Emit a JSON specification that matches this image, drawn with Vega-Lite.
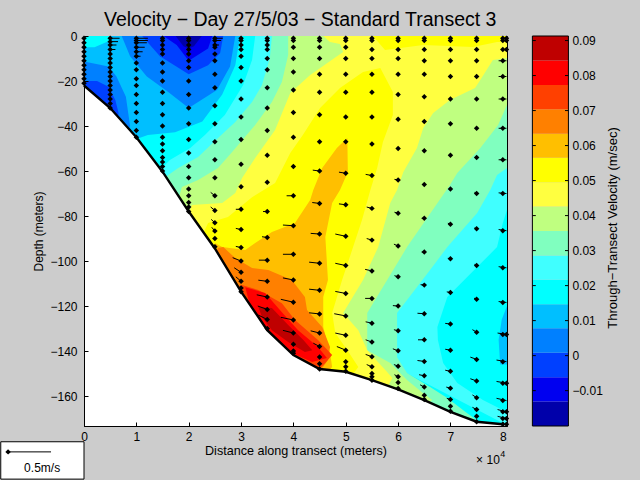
{"$schema":"https://vega.github.io/schema/vega-lite/v6.json","width":423,"height":390,"autosize":{"type":"none"},"padding":{"left":84,"top":36,"right":133,"bottom":54},"background":"#cccccc","config":{"view":{"stroke":"#000000","strokeWidth":1,"fill":null},"font":"Liberation Sans"},
"datasets":{
"poly":[
{"p":1,"b":"b06","o":1,"x":0,"d":0},{"p":1,"b":"b06","o":2,"x":8.08,"d":0},{"p":1,"b":"b06","o":3,"x":8.08,"d":-173.3},{"p":1,"b":"b06","o":4,"x":0,"d":-173.3},
{"p":2,"b":"b05","o":1,"x":0,"d":-5},{"p":2,"b":"b05","o":2,"x":0.2,"d":-5},{"p":2,"b":"b05","o":3,"x":0.5,"d":-2},{"p":2,"b":"b05","o":4,"x":0.5,"d":0},{"p":2,"b":"b05","o":5,"x":2.98,"d":0},{"p":2,"b":"b05","o":6,"x":2.89,"d":-13},{"p":2,"b":"b05","o":7,"x":2.64,"d":-26},{"p":2,"b":"b05","o":8,"x":2.26,"d":-38},{"p":2,"b":"b05","o":9,"x":1.74,"d":-42.8},{"p":2,"b":"b05","o":10,"x":1.22,"d":-44},{"p":2,"b":"b05","o":11,"x":1.03,"d":-45.5},{"p":2,"b":"b05","o":12,"x":0.9,"d":-60},{"p":2,"b":"b05","o":13,"x":0,"d":-60},
{"p":3,"b":"b05","o":1,"x":8.08,"d":-120},{"p":3,"b":"b05","o":2,"x":7.98,"d":-126},{"p":3,"b":"b05","o":3,"x":7.92,"d":-135},{"p":3,"b":"b05","o":4,"x":7.95,"d":-146},{"p":3,"b":"b05","o":5,"x":8.08,"d":-146},
{"p":4,"b":"b04","o":1,"x":0.72,"d":0},{"p":4,"b":"b04","o":2,"x":2.89,"d":0},{"p":4,"b":"b04","o":3,"x":2.79,"d":-13.5},{"p":4,"b":"b04","o":4,"x":2.54,"d":-24},{"p":4,"b":"b04","o":5,"x":2,"d":-32},{"p":4,"b":"b04","o":6,"x":1.59,"d":-24.5},{"p":4,"b":"b04","o":7,"x":1.2,"d":-18},{"p":4,"b":"b04","o":8,"x":0.88,"d":-9},
{"p":5,"b":"b04","o":1,"x":0,"d":-11.3},{"p":5,"b":"b04","o":2,"x":0.47,"d":-13.5},{"p":5,"b":"b04","o":3,"x":0.62,"d":-18},{"p":5,"b":"b04","o":4,"x":0.8,"d":-27},{"p":5,"b":"b04","o":5,"x":0.88,"d":-40},{"p":5,"b":"b04","o":6,"x":0.7,"d":-50},{"p":5,"b":"b04","o":7,"x":0,"d":-50},
{"p":6,"b":"b03","o":1,"x":1.11,"d":0},{"p":6,"b":"b03","o":2,"x":2.66,"d":0},{"p":6,"b":"b03","o":3,"x":2.6,"d":-7.5},{"p":6,"b":"b03","o":4,"x":2.37,"d":-13},{"p":6,"b":"b03","o":5,"x":2,"d":-17},{"p":6,"b":"b03","o":6,"x":1.45,"d":-9},
{"p":7,"b":"b03","o":1,"x":0,"d":-20},{"p":7,"b":"b03","o":2,"x":0.25,"d":-20},{"p":7,"b":"b03","o":3,"x":0.47,"d":-22.5},{"p":7,"b":"b03","o":4,"x":0.6,"d":-28.5},{"p":7,"b":"b03","o":5,"x":0.66,"d":-34.2},{"p":7,"b":"b03","o":6,"x":0.6,"d":-45},{"p":7,"b":"b03","o":7,"x":0,"d":-45},
{"p":8,"b":"b02","o":1,"x":1.52,"d":0},{"p":8,"b":"b02","o":2,"x":2.45,"d":0},{"p":8,"b":"b02","o":3,"x":2.37,"d":-5.5},{"p":8,"b":"b02","o":4,"x":2,"d":-11},{"p":8,"b":"b02","o":5,"x":1.77,"d":-4},
{"p":9,"b":"b01","o":1,"x":1.75,"d":0},{"p":9,"b":"b01","o":2,"x":2.25,"d":0},{"p":9,"b":"b01","o":3,"x":2.1,"d":-4.5},{"p":9,"b":"b01","o":4,"x":2,"d":-5.5},{"p":9,"b":"b01","o":5,"x":1.9,"d":-4.5},
{"p":10,"b":"b07","o":1,"x":3.27,"d":0},{"p":10,"b":"b07","o":2,"x":8.08,"d":0},{"p":10,"b":"b07","o":3,"x":8.08,"d":-77.3},{"p":10,"b":"b07","o":4,"x":8,"d":-83.1},{"p":10,"b":"b07","o":5,"x":7.89,"d":-93.8},{"p":10,"b":"b07","o":6,"x":7.51,"d":-102.7},{"p":10,"b":"b07","o":7,"x":6.94,"d":-116},{"p":10,"b":"b07","o":8,"x":6.75,"d":-129.3},{"p":10,"b":"b07","o":9,"x":6.76,"d":-135.1},{"p":10,"b":"b07","o":10,"x":6.86,"d":-145.3},{"p":10,"b":"b07","o":11,"x":7.13,"d":-154.2},{"p":10,"b":"b07","o":12,"x":7.62,"d":-161.8},{"p":10,"b":"b07","o":13,"x":8,"d":-166.2},{"p":10,"b":"b07","o":14,"x":8.08,"d":-167.1},{"p":10,"b":"b07","o":15,"x":8.08,"d":-173},{"p":10,"b":"b07","o":16,"x":1.26,"d":-90.7},{"p":10,"b":"b07","o":17,"x":1.45,"d":-59.6},{"p":10,"b":"b07","o":18,"x":1.64,"d":-55.1},{"p":10,"b":"b07","o":19,"x":2.03,"d":-49.8},{"p":10,"b":"b07","o":20,"x":2.31,"d":-44},{"p":10,"b":"b07","o":21,"x":2.69,"d":-35.1},{"p":10,"b":"b07","o":22,"x":3.04,"d":-21.8},{"p":10,"b":"b07","o":23,"x":3.21,"d":-10.7},
{"p":11,"b":"b08","o":1,"x":3.59,"d":0},{"p":11,"b":"b08","o":2,"x":8.08,"d":0},{"p":11,"b":"b08","o":3,"x":8.08,"d":-58.7},{"p":11,"b":"b08","o":4,"x":7.89,"d":-61.8},{"p":11,"b":"b08","o":5,"x":7.76,"d":-68.4},{"p":11,"b":"b08","o":6,"x":7.51,"d":-78.7},{"p":11,"b":"b08","o":7,"x":6.94,"d":-93.8},{"p":11,"b":"b08","o":8,"x":6.61,"d":-104},{"p":11,"b":"b08","o":9,"x":5.98,"d":-123.1},{"p":11,"b":"b08","o":10,"x":5.98,"d":-142.7},{"p":11,"b":"b08","o":11,"x":6.17,"d":-149.8},{"p":11,"b":"b08","o":12,"x":6.61,"d":-156},{"p":11,"b":"b08","o":13,"x":6.94,"d":-160.9},{"p":11,"b":"b08","o":14,"x":7.32,"d":-167.6},{"p":11,"b":"b08","o":15,"x":7.51,"d":-170.7},{"p":11,"b":"b08","o":16,"x":6.99,"d":-173},{"p":11,"b":"b08","o":17,"x":1.45,"d":-90.7},{"p":11,"b":"b08","o":18,"x":1.49,"d":-64},{"p":11,"b":"b08","o":19,"x":1.61,"d":-61.8},{"p":11,"b":"b08","o":20,"x":1.8,"d":-58.7},{"p":11,"b":"b08","o":21,"x":2.18,"d":-53.8},{"p":11,"b":"b08","o":22,"x":2.56,"d":-45.3},{"p":11,"b":"b08","o":23,"x":2.89,"d":-38.2},{"p":11,"b":"b08","o":24,"x":3.21,"d":-29.3},{"p":11,"b":"b08","o":25,"x":3.4,"d":-21.8},{"p":11,"b":"b08","o":26,"x":3.55,"d":-9.8},
{"p":12,"b":"b09","o":1,"x":3.9,"d":0},{"p":12,"b":"b09","o":2,"x":8.08,"d":0},{"p":12,"b":"b09","o":3,"x":8.08,"d":-30.7},{"p":12,"b":"b09","o":4,"x":7.91,"d":-39.6},{"p":12,"b":"b09","o":5,"x":7.57,"d":-49.8},{"p":12,"b":"b09","o":6,"x":7.13,"d":-60.9},{"p":12,"b":"b09","o":7,"x":6.99,"d":-66.2},{"p":12,"b":"b09","o":8,"x":6.17,"d":-93.8},{"p":12,"b":"b09","o":9,"x":5.41,"d":-123.1},{"p":12,"b":"b09","o":10,"x":5.41,"d":-139.6},{"p":12,"b":"b09","o":11,"x":5.85,"d":-145.3},{"p":12,"b":"b09","o":12,"x":6.17,"d":-152.9},{"p":12,"b":"b09","o":13,"x":6.48,"d":-158.7},{"p":12,"b":"b09","o":14,"x":6.65,"d":-161.8},{"p":12,"b":"b09","o":15,"x":6.23,"d":-170.7},{"p":12,"b":"b09","o":16,"x":1.64,"d":-90.7},{"p":12,"b":"b09","o":17,"x":1.8,"d":-72.9},{"p":12,"b":"b09","o":18,"x":1.87,"d":-67.1},{"p":12,"b":"b09","o":19,"x":2.18,"d":-64},{"p":12,"b":"b09","o":20,"x":2.56,"d":-58.7},{"p":12,"b":"b09","o":21,"x":2.83,"d":-51.6},{"p":12,"b":"b09","o":22,"x":3.27,"d":-39.6},{"p":12,"b":"b09","o":23,"x":3.59,"d":-29.3},{"p":12,"b":"b09","o":24,"x":3.78,"d":-20.4},{"p":12,"b":"b09","o":25,"x":3.9,"d":-8.4},
{"p":13,"b":"b10","o":1,"x":4.57,"d":0},{"p":13,"b":"b10","o":2,"x":8.08,"d":0},{"p":13,"b":"b10","o":3,"x":8.08,"d":-9.8},{"p":13,"b":"b10","o":4,"x":7.81,"d":-10.7},{"p":13,"b":"b10","o":5,"x":7.57,"d":-19.6},{"p":13,"b":"b10","o":6,"x":7.47,"d":-23.1},{"p":13,"b":"b10","o":7,"x":6.99,"d":-28.4},{"p":13,"b":"b10","o":8,"x":6.67,"d":-34.2},{"p":13,"b":"b10","o":9,"x":6.48,"d":-40.9},{"p":13,"b":"b10","o":10,"x":6.36,"d":-49.8},{"p":13,"b":"b10","o":11,"x":6.1,"d":-60.4},{"p":13,"b":"b10","o":12,"x":5.98,"d":-68.4},{"p":13,"b":"b10","o":13,"x":5.85,"d":-74.2},{"p":13,"b":"b10","o":14,"x":5.62,"d":-93.8},{"p":13,"b":"b10","o":15,"x":5.33,"d":-108.4},{"p":13,"b":"b10","o":16,"x":4.95,"d":-123.1},{"p":13,"b":"b10","o":17,"x":5.24,"d":-130.7},{"p":13,"b":"b10","o":18,"x":5.41,"d":-139.6},{"p":13,"b":"b10","o":19,"x":5.79,"d":-149.3},{"p":13,"b":"b10","o":20,"x":5.89,"d":-152},{"p":13,"b":"b10","o":21,"x":5.66,"d":-161.8},{"p":13,"b":"b10","o":22,"x":1.84,"d":-90.7},{"p":13,"b":"b10","o":23,"x":2.06,"d":-75.1},{"p":13,"b":"b10","o":24,"x":2.64,"d":-74.2},{"p":13,"b":"b10","o":25,"x":2.89,"d":-69.8},{"p":13,"b":"b10","o":26,"x":3.02,"d":-63.1},{"p":13,"b":"b10","o":27,"x":3.27,"d":-54.2},{"p":13,"b":"b10","o":28,"x":3.65,"d":-41.8},{"p":13,"b":"b10","o":29,"x":3.94,"d":-25.3},{"p":13,"b":"b10","o":30,"x":4.32,"d":-17.3},{"p":13,"b":"b10","o":31,"x":4.95,"d":-7.1},{"p":13,"b":"b10","o":32,"x":4.89,"d":-3.6},{"p":13,"b":"b10","o":33,"x":4.7,"d":-2.7},
{"p":14,"b":"b11","o":1,"x":5.66,"d":-14.2},{"p":14,"b":"b11","o":2,"x":5.9,"d":-24.9},{"p":14,"b":"b11","o":3,"x":5.9,"d":-35.1},{"p":14,"b":"b11","o":4,"x":5.71,"d":-47.1},{"p":14,"b":"b11","o":5,"x":5.6,"d":-58.7},{"p":14,"b":"b11","o":6,"x":5.47,"d":-68.4},{"p":14,"b":"b11","o":7,"x":5.31,"d":-81.8},{"p":14,"b":"b11","o":8,"x":5.14,"d":-93.8},{"p":14,"b":"b11","o":9,"x":4.93,"d":-108.4},{"p":14,"b":"b11","o":10,"x":4.74,"d":-123.1},{"p":14,"b":"b11","o":11,"x":4.8,"d":-132},{"p":14,"b":"b11","o":12,"x":5.03,"d":-139.6},{"p":14,"b":"b11","o":13,"x":5.24,"d":-147.1},{"p":14,"b":"b11","o":14,"x":5.12,"d":-150.7},{"p":14,"b":"b11","o":15,"x":4.13,"d":-157.3},{"p":14,"b":"b11","o":16,"x":2.22,"d":-90.7},{"p":14,"b":"b11","o":17,"x":2.37,"d":-83.1},{"p":14,"b":"b11","o":18,"x":2.75,"d":-80.4},{"p":14,"b":"b11","o":19,"x":3.21,"d":-71.6},{"p":14,"b":"b11","o":20,"x":3.65,"d":-65.3},{"p":14,"b":"b11","o":21,"x":3.94,"d":-52},{"p":14,"b":"b11","o":22,"x":4.18,"d":-44},{"p":14,"b":"b11","o":23,"x":4.51,"d":-32},{"p":14,"b":"b11","o":24,"x":4.89,"d":-23.1},{"p":14,"b":"b11","o":25,"x":5.33,"d":-16},
{"p":15,"b":"b11","o":1,"x":5.52,"d":0},{"p":15,"b":"b11","o":2,"x":5.75,"d":-6.2},{"p":15,"b":"b11","o":3,"x":6.48,"d":-4},{"p":15,"b":"b11","o":4,"x":7.43,"d":-4.9},{"p":15,"b":"b11","o":5,"x":7.89,"d":-2.7},{"p":15,"b":"b11","o":6,"x":8.08,"d":-2.7},{"p":15,"b":"b11","o":7,"x":8.08,"d":0},
{"p":16,"b":"b12","o":1,"x":5.03,"d":-45.3},{"p":16,"b":"b12","o":2,"x":5.04,"d":-60.4},{"p":16,"b":"b12","o":3,"x":4.89,"d":-68.4},{"p":16,"b":"b12","o":4,"x":4.74,"d":-74.2},{"p":16,"b":"b12","o":5,"x":4.61,"d":-89.3},{"p":16,"b":"b12","o":6,"x":4.66,"d":-108.4},{"p":16,"b":"b12","o":7,"x":4.57,"d":-116},{"p":16,"b":"b12","o":8,"x":4.57,"d":-129.3},{"p":16,"b":"b12","o":9,"x":4.7,"d":-140.9},{"p":16,"b":"b12","o":10,"x":4.74,"d":-147.1},{"p":16,"b":"b12","o":11,"x":4.51,"d":-152.9},{"p":16,"b":"b12","o":12,"x":2.5,"d":-99.6},{"p":16,"b":"b12","o":13,"x":2.5,"d":-92},{"p":16,"b":"b12","o":14,"x":2.64,"d":-93.8},{"p":16,"b":"b12","o":15,"x":3.08,"d":-95.1},{"p":16,"b":"b12","o":16,"x":3.27,"d":-92},{"p":16,"b":"b12","o":17,"x":3.59,"d":-87.1},{"p":16,"b":"b12","o":18,"x":4.03,"d":-83.1},{"p":16,"b":"b12","o":19,"x":4.32,"d":-72.9},{"p":16,"b":"b12","o":20,"x":4.38,"d":-68.4},{"p":16,"b":"b12","o":21,"x":4.55,"d":-58.7},{"p":16,"b":"b12","o":22,"x":4.83,"d":-49.8},
{"p":17,"b":"b13","o":1,"x":2.56,"d":-94.2},{"p":17,"b":"b13","o":2,"x":2.66,"d":-93.8},{"p":17,"b":"b13","o":3,"x":2.89,"d":-98.7},{"p":17,"b":"b13","o":4,"x":3.21,"d":-103.1},{"p":17,"b":"b13","o":5,"x":3.52,"d":-104},{"p":17,"b":"b13","o":6,"x":3.97,"d":-108.4},{"p":17,"b":"b13","o":7,"x":4.22,"d":-116},{"p":17,"b":"b13","o":8,"x":4.26,"d":-121.8},{"p":17,"b":"b13","o":9,"x":4.55,"d":-129.3},{"p":17,"b":"b13","o":10,"x":4.7,"d":-138.2},{"p":17,"b":"b13","o":11,"x":4.66,"d":-144},{"p":17,"b":"b13","o":12,"x":4.55,"d":-147.6},{"p":17,"b":"b13","o":13,"x":4.13,"d":-152.9},{"p":17,"b":"b13","o":14,"x":2.22,"d":-108.4},
{"p":18,"b":"b14","o":1,"x":3.02,"d":-110.7},{"p":18,"b":"b14","o":2,"x":3.33,"d":-112.9},{"p":18,"b":"b14","o":3,"x":3.78,"d":-118.7},{"p":18,"b":"b14","o":4,"x":4.03,"d":-126.2},{"p":18,"b":"b14","o":5,"x":4.47,"d":-135.1},{"p":18,"b":"b14","o":6,"x":4.74,"d":-141.8},{"p":18,"b":"b14","o":7,"x":4.61,"d":-145.3},{"p":18,"b":"b14","o":8,"x":4.51,"d":-147.6},{"p":18,"b":"b14","o":9,"x":3.94,"d":-152.9},{"p":18,"b":"b14","o":10,"x":2.79,"d":-112.9},
{"p":19,"b":"b15","o":1,"x":3.08,"d":-111.6},{"p":19,"b":"b15","o":2,"x":3.46,"d":-114.2},{"p":19,"b":"b15","o":3,"x":3.78,"d":-122.7},{"p":19,"b":"b15","o":4,"x":4.09,"d":-130.7},{"p":19,"b":"b15","o":5,"x":4.47,"d":-138.2},{"p":19,"b":"b15","o":6,"x":4.64,"d":-143.1},{"p":19,"b":"b15","o":7,"x":4.36,"d":-144.9},{"p":19,"b":"b15","o":8,"x":3.84,"d":-139.6},{"p":19,"b":"b15","o":9,"x":3.46,"d":-130.7},{"p":19,"b":"b15","o":10,"x":3.17,"d":-119.6},
{"p":20,"b":"b16","o":1,"x":3.33,"d":-120.4},{"p":20,"b":"b16","o":2,"x":3.59,"d":-120.9},{"p":20,"b":"b16","o":3,"x":3.9,"d":-128.4},{"p":20,"b":"b16","o":4,"x":4.19,"d":-135.1},{"p":20,"b":"b16","o":5,"x":4.36,"d":-139.6},{"p":20,"b":"b16","o":6,"x":4.22,"d":-140.4},{"p":20,"b":"b16","o":7,"x":3.9,"d":-136},{"p":20,"b":"b16","o":8,"x":3.59,"d":-130.7},{"p":20,"b":"b16","o":9,"x":3.4,"d":-124.9},
{"p":21,"b":"sea","o":1,"x":0,"d":-22},{"p":21,"b":"sea","o":2,"x":0.5,"d":-32},{"p":21,"b":"sea","o":3,"x":1,"d":-45},{"p":21,"b":"sea","o":4,"x":1.5,"d":-60.3},{"p":21,"b":"sea","o":5,"x":2,"d":-78},{"p":21,"b":"sea","o":6,"x":2.5,"d":-94.4},{"p":21,"b":"sea","o":7,"x":3,"d":-113.6},{"p":21,"b":"sea","o":8,"x":3.5,"d":-130.7},{"p":21,"b":"sea","o":9,"x":4,"d":-141.8},{"p":21,"b":"sea","o":10,"x":4.5,"d":-148},{"p":21,"b":"sea","o":11,"x":5,"d":-149.2},{"p":21,"b":"sea","o":12,"x":5.5,"d":-152.9},{"p":21,"b":"sea","o":13,"x":6,"d":-157},{"p":21,"b":"sea","o":14,"x":6.5,"d":-161.8},{"p":21,"b":"sea","o":15,"x":7,"d":-167},{"p":21,"b":"sea","o":16,"x":7.5,"d":-171.4},{"p":21,"b":"sea","o":17,"x":8,"d":-172.5},{"p":21,"b":"sea","o":18,"x":8.08,"d":-173.3},{"p":21,"b":"sea","o":19,"x":0,"d":-173.3}
],
"seabed":[{"o":1,"x":0,"d":-22},{"o":2,"x":0.5,"d":-32},{"o":3,"x":1,"d":-45},{"o":4,"x":1.5,"d":-60.3},{"o":5,"x":2,"d":-78},{"o":6,"x":2.5,"d":-94.4},{"o":7,"x":3,"d":-113.6},{"o":8,"x":3.5,"d":-130.7},{"o":9,"x":4,"d":-141.8},{"o":10,"x":4.5,"d":-148},{"o":11,"x":5,"d":-149.2},{"o":12,"x":5.5,"d":-152.9},{"o":13,"x":6,"d":-157},{"o":14,"x":6.5,"d":-161.8},{"o":15,"x":7,"d":-167},{"o":16,"x":7.5,"d":-171.4},{"o":17,"x":8,"d":-172.5}],
"tails":[
{"x":0.5,"d":-1,"tx":0.68,"td":-1},{"x":0.5,"d":-2.5,"tx":0.65,"td":-2.5},{"x":0.5,"d":-4,"tx":0.62,"td":-4},{"x":0.5,"d":-6,"tx":0.6,"td":-6},
{"x":1,"d":-1,"tx":1.22,"td":-1},{"x":1,"d":-2,"tx":1.22,"td":-2},{"x":1,"d":-3,"tx":1.2,"td":-3},{"x":1,"d":-5,"tx":1.16,"td":-5},{"x":1,"d":-7,"tx":1.12,"td":-7},{"x":1,"d":-9,"tx":1.08,"td":-9},
{"x":2.5,"d":-1,"tx":2.65,"td":-1},{"x":2.5,"d":-2,"tx":2.62,"td":-2},{"x":2.5,"d":-4,"tx":2.58,"td":-4},
{"x":2.5,"d":-71,"tx":2.42,"td":-69.5},{"x":2.5,"d":-77.5,"tx":2.42,"td":-76},{"x":2.5,"d":-83,"tx":2.43,"td":-81.5},{"x":2.5,"d":-86.7,"tx":2.44,"td":-85},
{"x":3,"d":-77,"tx":2.9,"td":-77},{"x":3,"d":-86,"tx":2.9,"td":-85.5},{"x":3,"d":-94,"tx":2.9,"td":-93.5},{"x":3,"d":-100,"tx":2.84,"td":-98.5},{"x":3,"d":-105,"tx":2.87,"td":-103},{"x":3,"d":-109,"tx":2.9,"td":-107},
{"x":3.5,"d":-78,"tx":3.42,"td":-78},{"x":3.5,"d":-89.5,"tx":3.4,"td":-89.2},{"x":3.5,"d":-99.6,"tx":3.34,"td":-99.6},{"x":3.5,"d":-109,"tx":3.33,"td":-108.5},{"x":3.5,"d":-116,"tx":3.3,"td":-115},{"x":3.5,"d":-121.5,"tx":3.32,"td":-120},{"x":3.5,"d":-126,"tx":3.33,"td":-124},
{"x":4,"d":-71,"tx":3.87,"td":-71},{"x":4,"d":-84.3,"tx":3.8,"td":-84},{"x":4,"d":-97,"tx":3.8,"td":-97},{"x":4,"d":-108.4,"tx":3.8,"td":-107.5},{"x":4,"d":-118.3,"tx":3.76,"td":-117},{"x":4,"d":-126.2,"tx":3.76,"td":-125},{"x":4,"d":-132,"tx":3.8,"td":-130.8},
{"x":4.5,"d":-60,"tx":4.37,"td":-59.6},{"x":4.5,"d":-74.4,"tx":4.36,"td":-74},{"x":4.5,"d":-88,"tx":4.33,"td":-87.7},{"x":4.5,"d":-101,"tx":4.3,"td":-100.5},{"x":4.5,"d":-113,"tx":4.3,"td":-112.5},{"x":4.5,"d":-123.5,"tx":4.3,"td":-123},{"x":4.5,"d":-132,"tx":4.33,"td":-131},{"x":4.5,"d":-138,"tx":4.38,"td":-136.5},
{"x":5,"d":-61,"tx":4.87,"td":-60.5},{"x":5,"d":-75,"tx":4.87,"td":-74.6},{"x":5,"d":-89,"tx":4.8,"td":-88},{"x":5,"d":-102,"tx":4.8,"td":-101},{"x":5,"d":-114.4,"tx":4.8,"td":-113.5},{"x":5,"d":-124.4,"tx":4.78,"td":-123.4},{"x":5,"d":-133,"tx":4.8,"td":-132},{"x":5,"d":-139.6,"tx":4.83,"td":-138},
{"x":5.5,"d":-62,"tx":5.38,"td":-61.5},{"x":5.5,"d":-76.6,"tx":5.4,"td":-76},{"x":5.5,"d":-90.7,"tx":5.4,"td":-90},{"x":5.5,"d":-104.4,"tx":5.37,"td":-103.7},{"x":5.5,"d":-116.6,"tx":5.37,"td":-116.6},{"x":5.5,"d":-127.6,"tx":5.38,"td":-127},{"x":5.5,"d":-136,"tx":5.38,"td":-135},{"x":5.5,"d":-142.5,"tx":5.38,"td":-141.5},{"x":5.5,"d":-147,"tx":5.4,"td":-146},
{"x":6,"d":-64,"tx":5.93,"td":-63.7},{"x":6,"d":-78.8,"tx":5.93,"td":-78.3},{"x":6,"d":-93.3,"tx":5.92,"td":-92.5},{"x":6,"d":-107,"tx":5.93,"td":-106.5},{"x":6,"d":-120,"tx":5.9,"td":-119.8},{"x":6,"d":-131,"tx":5.92,"td":-130.5},{"x":6,"d":-139.9,"tx":5.9,"td":-139},{"x":6,"d":-146.7,"tx":5.92,"td":-146},{"x":6,"d":-151.4,"tx":5.93,"td":-150.5},
{"x":6.5,"d":-81,"tx":6.45,"td":-81},{"x":6.5,"d":-96,"tx":6.45,"td":-96},{"x":6.5,"d":-110.7,"tx":6.43,"td":-110.5},{"x":6.5,"d":-123.4,"tx":6.37,"td":-123.2},{"x":6.5,"d":-135,"tx":6.38,"td":-135},{"x":6.5,"d":-144.6,"tx":6.37,"td":-144.2},{"x":6.5,"d":-151,"tx":6.4,"td":-150.5},{"x":6.5,"d":-156,"tx":6.42,"td":-155},
{"x":7,"d":-83.6,"tx":6.95,"td":-83.2},{"x":7,"d":-99,"tx":6.95,"td":-98.8},{"x":7,"d":-114,"tx":6.93,"td":-113.7},{"x":7,"d":-128,"tx":6.9,"td":-127.7},{"x":7,"d":-139.6,"tx":6.9,"td":-139.2},{"x":7,"d":-149,"tx":6.9,"td":-148.5},{"x":7,"d":-156.5,"tx":6.92,"td":-156},{"x":7,"d":-161.5,"tx":6.93,"td":-161},
{"x":7.5,"d":-70,"tx":7.46,"td":-69.5},{"x":7.5,"d":-85.7,"tx":7.46,"td":-85.3},{"x":7.5,"d":-102,"tx":7.46,"td":-101.5},{"x":7.5,"d":-117,"tx":7.45,"td":-116.5},{"x":7.5,"d":-131.6,"tx":7.42,"td":-130.5},{"x":7.5,"d":-143.7,"tx":7.38,"td":-142.7},{"x":7.5,"d":-153.3,"tx":7.38,"td":-152.3},{"x":7.5,"d":-160.7,"tx":7.42,"td":-159.5},{"x":7.5,"d":-166,"tx":7.42,"td":-165},
{"x":8.07,"d":-11,"tx":7.92,"td":-11},{"x":8.07,"d":-18,"tx":7.92,"td":-18},{"x":8.07,"d":-28,"tx":7.92,"td":-28},{"x":8.07,"d":-41,"tx":7.92,"td":-41},{"x":8.07,"d":-55,"tx":7.92,"td":-55},{"x":8.07,"d":-70,"tx":7.92,"td":-69.7},{"x":8.07,"d":-86.5,"tx":7.92,"td":-86},{"x":8.07,"d":-103,"tx":7.92,"td":-102.5},{"x":8.07,"d":-118.4,"tx":7.92,"td":-118},{"x":8.07,"d":-132.6,"tx":7.9,"td":-132},{"x":8.07,"d":-144.7,"tx":7.88,"td":-144},{"x":8.07,"d":-154.3,"tx":7.88,"td":-153.5},{"x":8.07,"d":-162,"tx":7.88,"td":-161},{"x":8.07,"d":-167,"tx":7.9,"td":-166},{"x":8.07,"d":-170,"tx":7.9,"td":-169}
],
"pts":[
{"x":0,"d":-1},{"x":0,"d":-3},{"x":0,"d":-5},{"x":0,"d":-7},{"x":0,"d":-9},{"x":0,"d":-11},{"x":0,"d":-13},{"x":0,"d":-15},{"x":0,"d":-17},{"x":0,"d":-19},{"x":0,"d":-21},
{"x":0.5,"d":-1},{"x":0.5,"d":-2.5},{"x":0.5,"d":-4},{"x":0.5,"d":-6},{"x":0.5,"d":-8},{"x":0.5,"d":-10},{"x":0.5,"d":-12},{"x":0.5,"d":-14},{"x":0.5,"d":-16},{"x":0.5,"d":-18},{"x":0.5,"d":-20},{"x":0.5,"d":-22},{"x":0.5,"d":-24},{"x":0.5,"d":-26},{"x":0.5,"d":-28},{"x":0.5,"d":-30},{"x":0.5,"d":-32},
{"x":1,"d":-1},{"x":1,"d":-2},{"x":1,"d":-3},{"x":1,"d":-5},{"x":1,"d":-7},{"x":1,"d":-9},{"x":1,"d":-12},{"x":1,"d":-15},{"x":1,"d":-19},{"x":1,"d":-22},{"x":1,"d":-26},{"x":1,"d":-30},{"x":1,"d":-34},{"x":1,"d":-38},{"x":1,"d":-42},{"x":1,"d":-45},
{"x":1.5,"d":-1},{"x":1.5,"d":-2},{"x":1.5,"d":-4},{"x":1.5,"d":-6},{"x":1.5,"d":-8},{"x":1.5,"d":-12},{"x":1.5,"d":-16},{"x":1.5,"d":-20},{"x":1.5,"d":-25},{"x":1.5,"d":-30},{"x":1.5,"d":-35},{"x":1.5,"d":-40},{"x":1.5,"d":-45},{"x":1.5,"d":-48},{"x":1.5,"d":-51},{"x":1.5,"d":-54},{"x":1.5,"d":-56},{"x":1.5,"d":-58},{"x":1.5,"d":-60},
{"x":2,"d":-1},{"x":2,"d":-2},{"x":2,"d":-4},{"x":2,"d":-6},{"x":2,"d":-8},{"x":2,"d":-11},{"x":2,"d":-14},{"x":2,"d":-20},{"x":2,"d":-26},{"x":2,"d":-32},{"x":2,"d":-39},{"x":2,"d":-46},{"x":2,"d":-52},{"x":2,"d":-58},{"x":2,"d":-63},{"x":2,"d":-68},{"x":2,"d":-71},{"x":2,"d":-74},{"x":2,"d":-76},{"x":2,"d":-78},
{"x":2.5,"d":-1},{"x":2.5,"d":-2},{"x":2.5,"d":-4},{"x":2.5,"d":-5},{"x":2.5,"d":-8},{"x":2.5,"d":-11},{"x":2.5,"d":-17},{"x":2.5,"d":-23},{"x":2.5,"d":-31},{"x":2.5,"d":-39},{"x":2.5,"d":-47},{"x":2.5,"d":-55},{"x":2.5,"d":-63},{"x":2.5,"d":-71},{"x":2.5,"d":-77.5},{"x":2.5,"d":-83},{"x":2.5,"d":-86.7},{"x":2.5,"d":-90},{"x":2.5,"d":-93.6},
{"x":3,"d":-1},{"x":3,"d":-2},{"x":3,"d":-4},{"x":3,"d":-6},{"x":3,"d":-9},{"x":3,"d":-14},{"x":3,"d":-20},{"x":3,"d":-28},{"x":3,"d":-36},{"x":3,"d":-46},{"x":3,"d":-57},{"x":3,"d":-67},{"x":3,"d":-77},{"x":3,"d":-86},{"x":3,"d":-94},{"x":3,"d":-100},{"x":3,"d":-105},{"x":3,"d":-109},{"x":3,"d":-112},{"x":3,"d":-113.6},
{"x":3.5,"d":-1},{"x":3.5,"d":-2},{"x":3.5,"d":-4},{"x":3.5,"d":-6},{"x":3.5,"d":-10},{"x":3.5,"d":-15},{"x":3.5,"d":-23},{"x":3.5,"d":-32},{"x":3.5,"d":-42},{"x":3.5,"d":-53},{"x":3.5,"d":-65},{"x":3.5,"d":-78},{"x":3.5,"d":-89.5},{"x":3.5,"d":-99.6},{"x":3.5,"d":-109},{"x":3.5,"d":-116},{"x":3.5,"d":-121.5},{"x":3.5,"d":-126},{"x":3.5,"d":-130},
{"x":4,"d":-1},{"x":4,"d":-2},{"x":4,"d":-5},{"x":4,"d":-10},{"x":4,"d":-16},{"x":4,"d":-24},{"x":4,"d":-34},{"x":4,"d":-45},{"x":4,"d":-58},{"x":4,"d":-71},{"x":4,"d":-84.3},{"x":4,"d":-97},{"x":4,"d":-108.4},{"x":4,"d":-118.3},{"x":4,"d":-126.2},{"x":4,"d":-132},{"x":4,"d":-137},{"x":4,"d":-140},{"x":4,"d":-141},
{"x":4.5,"d":-1},{"x":4.5,"d":-2},{"x":4.5,"d":-5},{"x":4.5,"d":-10},{"x":4.5,"d":-17},{"x":4.5,"d":-25},{"x":4.5,"d":-35},{"x":4.5,"d":-47},{"x":4.5,"d":-60},{"x":4.5,"d":-74.4},{"x":4.5,"d":-88},{"x":4.5,"d":-101},{"x":4.5,"d":-113},{"x":4.5,"d":-123.5},{"x":4.5,"d":-132},{"x":4.5,"d":-138},{"x":4.5,"d":-142.6},{"x":4.5,"d":-145.6},{"x":4.5,"d":-148},
{"x":5,"d":-1},{"x":5,"d":-2},{"x":5,"d":-5},{"x":5,"d":-10},{"x":5,"d":-17},{"x":5,"d":-25},{"x":5,"d":-36},{"x":5,"d":-47},{"x":5,"d":-61},{"x":5,"d":-75},{"x":5,"d":-89},{"x":5,"d":-102},{"x":5,"d":-114.4},{"x":5,"d":-124.4},{"x":5,"d":-133},{"x":5,"d":-139.6},{"x":5,"d":-144.7},{"x":5,"d":-147},{"x":5,"d":-149},
{"x":5.5,"d":-1},{"x":5.5,"d":-2},{"x":5.5,"d":-6},{"x":5.5,"d":-10},{"x":5.5,"d":-17},{"x":5.5,"d":-25},{"x":5.5,"d":-36},{"x":5.5,"d":-48},{"x":5.5,"d":-62},{"x":5.5,"d":-76.6},{"x":5.5,"d":-90.7},{"x":5.5,"d":-104.4},{"x":5.5,"d":-116.6},{"x":5.5,"d":-127.6},{"x":5.5,"d":-136},{"x":5.5,"d":-142.5},{"x":5.5,"d":-147},{"x":5.5,"d":-150},{"x":5.5,"d":-151.4},{"x":5.5,"d":-153},
{"x":6,"d":-1},{"x":6,"d":-2},{"x":6,"d":-6},{"x":6,"d":-10},{"x":6,"d":-17},{"x":6,"d":-26},{"x":6,"d":-37},{"x":6,"d":-50},{"x":6,"d":-64},{"x":6,"d":-78.8},{"x":6,"d":-93.3},{"x":6,"d":-107},{"x":6,"d":-120},{"x":6,"d":-131},{"x":6,"d":-139.9},{"x":6,"d":-146.7},{"x":6,"d":-151.4},{"x":6,"d":-154},{"x":6,"d":-156.6},
{"x":6.5,"d":-1},{"x":6.5,"d":-2},{"x":6.5,"d":-6},{"x":6.5,"d":-11},{"x":6.5,"d":-17},{"x":6.5,"d":-27},{"x":6.5,"d":-38},{"x":6.5,"d":-51},{"x":6.5,"d":-66},{"x":6.5,"d":-81},{"x":6.5,"d":-96},{"x":6.5,"d":-110.7},{"x":6.5,"d":-123.4},{"x":6.5,"d":-135},{"x":6.5,"d":-144.6},{"x":6.5,"d":-151},{"x":6.5,"d":-156},{"x":6.5,"d":-159.6},{"x":6.5,"d":-161.5},
{"x":7,"d":-1},{"x":7,"d":-2},{"x":7,"d":-6},{"x":7,"d":-11},{"x":7,"d":-18},{"x":7,"d":-28},{"x":7,"d":-39},{"x":7,"d":-53},{"x":7,"d":-68},{"x":7,"d":-83.6},{"x":7,"d":-99},{"x":7,"d":-114},{"x":7,"d":-128},{"x":7,"d":-139.6},{"x":7,"d":-149},{"x":7,"d":-156.5},{"x":7,"d":-161.5},{"x":7,"d":-164.5},{"x":7,"d":-166.7},
{"x":7.5,"d":-1},{"x":7.5,"d":-2},{"x":7.5,"d":-6},{"x":7.5,"d":-11},{"x":7.5,"d":-18},{"x":7.5,"d":-28},{"x":7.5,"d":-41},{"x":7.5,"d":-54},{"x":7.5,"d":-70},{"x":7.5,"d":-85.7},{"x":7.5,"d":-102},{"x":7.5,"d":-117},{"x":7.5,"d":-131.6},{"x":7.5,"d":-143.7},{"x":7.5,"d":-153.3},{"x":7.5,"d":-160.7},{"x":7.5,"d":-166},{"x":7.5,"d":-169},{"x":7.5,"d":-171.4},
{"x":8,"d":-1},{"x":8,"d":-2},{"x":8,"d":-6},{"x":8,"d":-11},{"x":8,"d":-18},{"x":8,"d":-28},{"x":8,"d":-41},{"x":8,"d":-55},{"x":8,"d":-70},{"x":8,"d":-86.5},{"x":8,"d":-103},{"x":8,"d":-118.4},{"x":8,"d":-132.6},{"x":8,"d":-144.7},{"x":8,"d":-154.3},{"x":8,"d":-162},{"x":8,"d":-167},{"x":8,"d":-170},{"x":8,"d":-172.5},
{"x":8.07,"d":-1},{"x":8.07,"d":-2},{"x":8.07,"d":-6},{"x":8.07,"d":-132.6},{"x":8.07,"d":-154.3},{"x":8.07,"d":-167},{"x":8.07,"d":-170},{"x":8.07,"d":-172.5}
],
"bar":[{"b":"b01","lo":-0.0201,"hi":-0.0131},{"b":"b02","lo":-0.0131,"hi":-0.0062},{"b":"b03","lo":-0.0062,"hi":0.0008},{"b":"b04","lo":0.0008,"hi":0.0078},{"b":"b05","lo":0.0078,"hi":0.0147},{"b":"b06","lo":0.0147,"hi":0.0217},{"b":"b07","lo":0.0217,"hi":0.0286},{"b":"b08","lo":0.0286,"hi":0.0356},{"b":"b09","lo":0.0356,"hi":0.0426},{"b":"b10","lo":0.0426,"hi":0.0495},{"b":"b11","lo":0.0495,"hi":0.0565},{"b":"b12","lo":0.0565,"hi":0.0634},{"b":"b13","lo":0.0634,"hi":0.0704},{"b":"b14","lo":0.0704,"hi":0.0773},{"b":"b15","lo":0.0773,"hi":0.0843},{"b":"b16","lo":0.0843,"hi":0.0913}],
"ticks":[{"v":-0.01,"t":"−0.01"},{"v":0,"t":"0"},{"v":0.01,"t":"0.01"},{"v":0.02,"t":"0.02"},{"v":0.03,"t":"0.03"},{"v":0.04,"t":"0.04"},{"v":0.05,"t":"0.05"},{"v":0.06,"t":"0.06"},{"v":0.07,"t":"0.07"},{"v":0.08,"t":"0.08"},{"v":0.09,"t":"0.09"}]
},
"layer":[
{"encoding":{"x":{"field":"x","type":"quantitative","scale":{"domain":[0,8.08],"nice":false,"zero":false},"axis":{"title":"Distance along transect (meters)","values":[0,1,2,3,4,5,6,7,8],"format":"d","tickSize":-4,"tickColor":"#000000","domainColor":"#000000","labelColor":"#000000","titleColor":"#000000","labelFont":"Liberation Sans","titleFont":"Liberation Sans","labelFontSize":12,"titleFontSize":12.6,"titleFontWeight":"normal","labelPadding":9,"titlePadding":2,"labelFlush":false,"grid":false,"zindex":2}},"y":{"field":"d","type":"quantitative","scale":{"domain":[-173.3,0],"nice":false,"zero":false},"axis":{"title":"Depth (meters)","values":[0,-20,-40,-60,-80,-100,-120,-140,-160],"tickSize":-4,"tickColor":"#000000","domainColor":"#000000","labelColor":"#000000","titleColor":"#000000","labelFont":"Liberation Sans","titleFont":"Liberation Sans","labelFontSize":12,"titleFontSize":12,"titleFontWeight":"normal","labelPadding":11,"titlePadding":4,"labelFlush":false,"grid":false,"zindex":2}}},
"layer":[
{"data":{"name":"poly"},"mark":{"type":"line","strokeWidth":0,"interpolate":"linear-closed"},"encoding":{"order":{"field":"o","type":"quantitative"},"detail":{"field":"p","type":"nominal"},"fill":{"field":"b","type":"nominal","legend":null,"scale":{"domain":["b01","b02","b03","b04","b05","b06","b07","b08","b09","b10","b11","b12","b13","b14","b15","b16","sea"],"range":["#0000aa","#0000f0","#0040ff","#0080ff","#00bfff","#00ffff","#40ffff","#80ffbf","#bfff80","#ffff40","#ffff00","#ffbf00","#ff8000","#ff4000","#ff0000","#bf0000","#ffffff"]}}}},
{"data":{"name":"seabed"},"mark":{"type":"line","color":"#000000","strokeWidth":2.4},"encoding":{"order":{"field":"o","type":"quantitative"}}},
{"data":{"name":"tails"},"mark":{"type":"rule","color":"#000000","strokeWidth":1},"encoding":{"x2":{"field":"tx"},"y2":{"field":"td"}}},
{"data":{"name":"pts"},"mark":{"type":"point","shape":"diamond","filled":true,"color":"#000000","size":30,"opacity":1}},
{"data":{"values":[{"x":-1.59,"tx":0,"d":-180.3,"td":-196.9}]},"mark":{"type":"rect","fill":"#ffffff","stroke":"#000000","strokeWidth":1},"encoding":{"x2":{"field":"tx"},"y2":{"field":"td"}}},
{"data":{"values":[{"x":-1.45,"tx":-0.63,"d":-184.8,"td":-184.8}]},"mark":{"type":"rule","color":"#000000","strokeWidth":1},"encoding":{"x2":{"field":"tx"},"y2":{"field":"td"}}},
{"data":{"values":[{"x":-1.45,"d":-184.8}]},"mark":{"type":"point","shape":"diamond","filled":true,"color":"#000000","size":30,"opacity":1}},
{"data":{"values":[{"x":-0.8,"d":-192,"t":"0.5m/s"}]},"mark":{"type":"text","font":"Liberation Sans","fontSize":12,"color":"#000000","align":"center","baseline":"middle"},"encoding":{"text":{"field":"t"}}},
{"data":{"values":[{"x":4.13,"d":7.1,"t":"Velocity − Day 27/5/03 − Standard Transect 3"}]},"mark":{"type":"text","font":"Liberation Sans","fontSize":19.5,"color":"#000000","align":"center","baseline":"middle"},"encoding":{"text":{"field":"t"}}},
{"data":{"values":[{"x":7.49,"d":-188.4,"t":"× 10"}]},"mark":{"type":"text","font":"Liberation Sans","fontSize":12,"color":"#000000","align":"left","baseline":"middle"},"encoding":{"text":{"field":"t"}}},
{"data":{"values":[{"x":8,"d":-185.8,"t":"4"}]},"mark":{"type":"text","font":"Liberation Sans","fontSize":9,"color":"#000000","align":"center","baseline":"middle"},"encoding":{"text":{"field":"t"}}},
{"data":{"values":[{"x":10.11,"d":-85.3,"t":"Through−Transect Velocity (m/sec)"}]},"mark":{"type":"text","font":"Liberation Sans","fontSize":13,"color":"#000000","align":"center","baseline":"middle","angle":270},"encoding":{"text":{"field":"t"}}}
]},
{"encoding":{"x":{"datum":8.565,"type":"quantitative","title":"Distance along transect (meters)","scale":{"domain":[0,8.08],"nice":false,"zero":false}},"x2":{"datum":9.253},"y":{"field":"lo","type":"quantitative","scale":{"domain":[-0.0201,0.0913],"nice":false,"zero":false},"axis":null}},
"layer":[
{"data":{"name":"bar"},"mark":{"type":"rect"},"encoding":{"y2":{"field":"hi"},"fill":{"field":"b","type":"nominal","legend":null}}},
{"data":{"values":[{"lo":-0.0201,"hi":0.0913}]},"mark":{"type":"rect","fill":null,"stroke":"#000000","strokeWidth":1},"encoding":{"y2":{"field":"hi"}}}
]},
{"encoding":{"y":{"field":"v","type":"quantitative","scale":{"domain":[-0.0201,0.0913],"nice":false,"zero":false},"axis":null}},"data":{"name":"ticks"},
"layer":[
{"mark":{"type":"rule","color":"#000000","strokeWidth":1},"encoding":{"x":{"datum":8.565,"type":"quantitative","title":"Distance along transect (meters)","scale":{"domain":[0,8.08],"nice":false,"zero":false}},"x2":{"datum":8.63}}},
{"mark":{"type":"rule","color":"#000000","strokeWidth":1},"encoding":{"x":{"datum":9.188,"type":"quantitative","title":"Distance along transect (meters)","scale":{"domain":[0,8.08],"nice":false,"zero":false}},"x2":{"datum":9.253}}},
{"mark":{"type":"text","font":"Liberation Sans","fontSize":12,"color":"#000000","align":"left","baseline":"middle"},"encoding":{"x":{"datum":9.33,"type":"quantitative","title":"Distance along transect (meters)","scale":{"domain":[0,8.08],"nice":false,"zero":false}},"text":{"field":"t"}}}
]}
],
"resolve":{"scale":{"y":"independent"}}
}
